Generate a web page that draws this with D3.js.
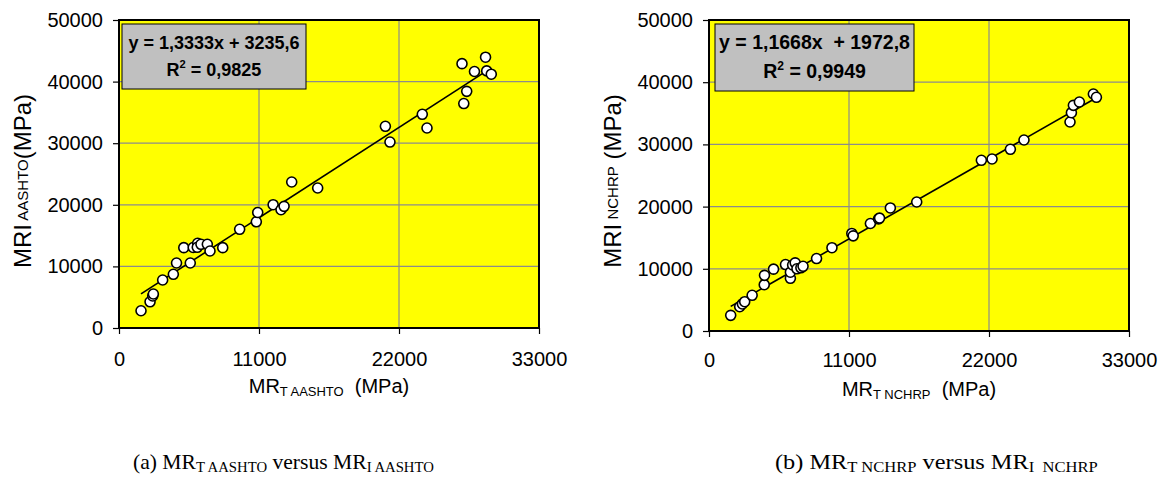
<!DOCTYPE html>
<html>
<head>
<meta charset="utf-8">
<script src="https://cdn.jsdelivr.net/npm/d3@7"></script>
<style>
  body { margin: 0; background: #fff; }
  svg { display: block; }
  text { white-space: pre; }
</style>
</head>
<body>
<svg id="fig" width="1167" height="484"></svg>
<script>
// Axis ticks shared by both panels
const xTicks = [0, 11000, 22000, 33000];
const yTicks = [0, 10000, 20000, 30000, 40000, 50000];

// (a) AASHTO: resilient modulus from test (T) vs. from indirect method (I), MPa
const aashtoT = [1730, 2440, 2650, 2700, 3430, 4270, 4520, 5600, 5090, 5830, 6180, 6150,
  6440, 6940, 7150, 8150, 9480, 10790, 10900, 12110, 12730, 12970, 13570, 15610,
  20930, 21290, 23830, 24200, 26950, 27090, 27320, 27930, 28800, 28890, 29250];
const aashtoI = [2800, 4250, 5200, 5520, 7790, 8720, 10550, 10550, 13040, 13070, 13750, 13100,
  13590, 13590, 12500, 13040, 16020, 17240, 18750, 20020, 19200, 19750, 23700, 22730,
  32740, 30190, 34690, 32470, 42910, 36440, 38420, 41640, 43960, 41740, 41200];
const aashtoSlope = 1.3333;
const aashtoIntercept = 3235.6;
const aashtoEquation = "y = 1,3333x + 3235,6";
const aashtoR2 = "0,9825";

// (b) NCHRP
const nchrpT = [1705, 2412, 2624, 2805, 3390, 4340, 4360, 5070, 6010, 6395, 6395, 6570,
  6770, 6910, 7220, 7390, 8450, 9660, 11220, 11330, 12680, 13320, 13400, 14250,
  16320, 21400, 22240, 23680, 24750, 28365, 28475, 28630, 29100, 30200, 30440];
const nchrpI = [2520, 3900, 4350, 4710, 5740, 7440, 8950, 9940, 10680, 8470, 9450, 10610,
  10960, 10000, 10160, 10400, 11650, 13390, 15680, 15300, 17280, 18030, 18150, 19780,
  20740, 27440, 27650, 29210, 30710, 33600, 35100, 36280, 36820, 38100, 37570];
const nchrpSlope = 1.1668;
const nchrpIntercept = 1972.8;
const nchrpEquation = "y = 1,1668x  + 1972,8";
const nchrpR2 = "0,9949";

const SANS = "'Liberation Sans', Arial, sans-serif";
const SERIF = "'Liberation Serif', 'Times New Roman', serif";

const svg = d3.select("#fig");

function drawPanel(p) {
  const x = d3.scaleLinear().domain([0, 33000]).range([p.left, p.right]);
  const y = d3.scaleLinear().domain([0, 50000]).range([p.bottom, p.top]);
  const g = svg.append("g");

  // plot background
  g.append("rect")
    .attr("x", p.left).attr("y", p.top)
    .attr("width", p.right - p.left).attr("height", p.bottom - p.top)
    .attr("fill", "#ffff00");

  // gridlines
  g.selectAll(".gx").data(xTicks.slice(1, -1)).join("line")
    .attr("x1", d => x(d)).attr("x2", d => x(d))
    .attr("y1", p.top).attr("y2", p.bottom)
    .attr("stroke", "#8c8c8c").attr("stroke-width", 1.2);
  g.selectAll(".gy").data(yTicks.slice(1, -1)).join("line")
    .attr("x1", p.left).attr("x2", p.right)
    .attr("y1", d => y(d)).attr("y2", d => y(d))
    .attr("stroke", "#8c8c8c").attr("stroke-width", 1.2);

  // axes
  const ax = g.append("g").attr("transform", `translate(0,${p.bottom})`)
    .call(d3.axisBottom(x).tickValues(xTicks).tickFormat(d3.format("d"))
      .tickSize(6).tickSizeOuter(0).tickPadding(p.xPad));
  const ay = g.append("g").attr("transform", `translate(${p.left},0)`)
    .call(d3.axisLeft(y).tickValues(yTicks).tickFormat(d3.format("d"))
      .tickSize(6).tickSizeOuter(0).tickPadding(10));
  [ax, ay].forEach(a => {
    a.select(".domain").remove();
    a.selectAll("line").attr("stroke", "#000").attr("stroke-width", 1.2);
    a.selectAll("text").attr("font-family", SANS).attr("font-size", 20).attr("fill", "#000");
  });

  // plot frame
  g.append("rect")
    .attr("x", p.left).attr("y", p.top)
    .attr("width", p.right - p.left).attr("height", p.bottom - p.top)
    .attr("fill", "none").attr("stroke", "#000").attr("stroke-width", 2);

  // linear trendline across the data range
  const [xmin, xmax] = d3.extent(p.tx);
  g.append("line")
    .attr("x1", x(xmin)).attr("y1", y(p.slope * xmin + p.intercept))
    .attr("x2", x(xmax)).attr("y2", y(p.slope * xmax + p.intercept))
    .attr("stroke", "#000").attr("stroke-width", 1.6);

  // data points
  g.selectAll(".pt").data(d3.range(p.tx.length)).join("circle")
    .attr("cx", i => x(p.tx[i])).attr("cy", i => y(p.iy[i]))
    .attr("r", 5).attr("fill", "#fff").attr("stroke", "#000").attr("stroke-width", 1.6);

  // equation label
  const b = p.box;
  g.append("rect").attr("x", b.x).attr("y", b.y).attr("width", b.w).attr("height", b.h)
    .attr("fill", "#c0c0c0").attr("stroke", "#000").attr("stroke-width", 1);
  const cx = b.x + b.w / 2;
  g.append("text").attr("x", cx).attr("y", b.y + p.eqLine1)
    .attr("text-anchor", "middle").attr("font-family", SANS).attr("font-weight", "bold")
    .attr("font-size", p.eqSize).text(p.equation);
  const r2 = g.append("text").attr("x", cx).attr("y", b.y + p.eqLine2)
    .attr("text-anchor", "middle").attr("font-family", SANS).attr("font-weight", "bold")
    .attr("font-size", p.eqSize);
  r2.append("tspan").text("R");
  r2.append("tspan").attr("font-size", p.eqSize * 0.62).attr("dy", -p.eqSize * 0.42).text("2");
  r2.append("tspan").attr("dy", p.eqSize * 0.42).text(" = " + p.r2);

  // x axis title
  const xt = g.append("text").attr("x", (p.left + p.right) / 2).attr("y", p.xTitleY)
    .attr("text-anchor", "middle").attr("font-family", SANS).attr("font-size", 20);
  xt.append("tspan").text("MR");
  xt.append("tspan").attr("font-size", 13).attr("dy", 3).text(p.xSub);
  xt.append("tspan").attr("dy", -3).text(p.xTail);

  // y axis title
  const yt = g.append("text")
    .attr("transform", `translate(${p.yTitleX},${p.yTitleY}) rotate(-90)`)
    .attr("text-anchor", "middle").attr("font-family", SANS).attr("font-size", 24);
  yt.append("tspan").text("MRI");
  yt.append("tspan").attr("font-size", 15).attr("dy", -3).text(p.ySub);
  yt.append("tspan").attr("dy", 3).text(p.yTail);

  // caption, fitted to its line width
  const cap = svg.append("text").attr("x", 0).attr("y", 469)
    .attr("font-family", SERIF).attr("font-size", 22).attr("fill", "#000");
  cap.append("tspan").text(p.capLead + " MR");
  cap.append("tspan").attr("font-size", 15).attr("dy", 3).text(p.capSub1);
  cap.append("tspan").attr("dy", -3).text(" versus MR");
  cap.append("tspan").attr("font-size", 15).attr("dy", 3).text(p.capSub2);
  const w = cap.node().getComputedTextLength();
  cap.attr("transform", `translate(${p.capX},0) scale(${p.capWidth / w},1)`);
}

drawPanel({
  left: 119, right: 539, top: 20, bottom: 328, xPad: 18,
  tx: aashtoT, iy: aashtoI, slope: aashtoSlope, intercept: aashtoIntercept,
  box: { x: 122, y: 24, w: 184, h: 65 }, eqSize: 18, eqLine1: 25, eqLine2: 52,
  equation: aashtoEquation, r2: aashtoR2,
  xTitleY: 393, xSub: "T AASHTO", xTail: "  (MPa)",
  yTitleX: 31, yTitleY: 181, ySub: " AASHTO", yTail: "(MPa)",
  capX: 133, capWidth: 301, capLead: "(a)", capSub1: "T AASHTO", capSub2: "I AASHTO"
});

drawPanel({
  left: 709, right: 1129, top: 20, bottom: 331, xPad: 16,
  tx: nchrpT, iy: nchrpI, slope: nchrpSlope, intercept: nchrpIntercept,
  box: { x: 715, y: 24, w: 199, h: 67 }, eqSize: 19.5, eqLine1: 25, eqLine2: 54,
  equation: nchrpEquation, r2: nchrpR2,
  xTitleY: 396, xSub: "T NCHRP", xTail: "  (MPa)",
  yTitleX: 621, yTitleY: 181, ySub: " NCHRP", yTail: " (MPa)",
  capX: 775, capWidth: 323, capLead: "(b)", capSub1: "T NCHRP", capSub2: "I  NCHRP"
});
</script>
</body>
</html>
